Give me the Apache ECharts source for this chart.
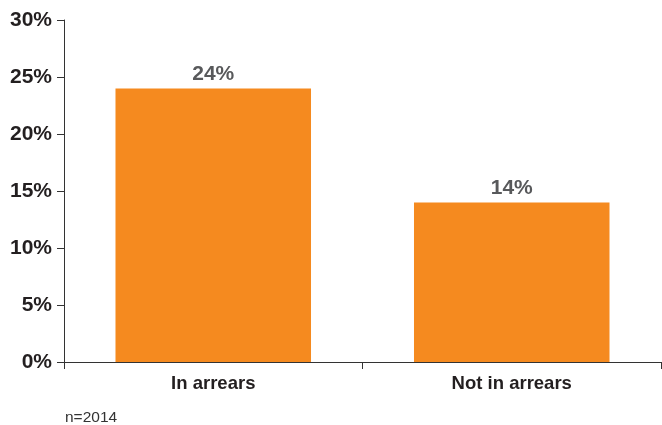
<!DOCTYPE html>
<html>
<head>
<meta charset="utf-8">
<script src="https://cdn.jsdelivr.net/npm/echarts@6/dist/echarts.min.js"></script>
<style>
html,body{margin:0;padding:0;background:#fff;}
#chart{width:662px;height:425px;}
</style>
</head>
<body>
<div id="chart"></div>
<script>
const categories = ['In arrears', 'Not in arrears'];
const values = [24, 14];
const yTicks = [0, 5, 10, 15, 20, 25, 30];

const chart = echarts.init(document.getElementById('chart'), null, {renderer: 'canvas'});
chart.setOption({
  animation: false,
  grid: {left: 64, right: 1, top: 20, bottom: 63, containLabel: false},
  xAxis: {
    type: 'category',
    data: categories,
    axisLine: {lineStyle: {color: '#333', width: 1}},
    axisTick: {show: true, length: 7, alignWithLabel: false, lineStyle: {color: '#333'}},
    axisLabel: {color: '#231F20', fontFamily: 'Liberation Sans, Arial, sans-serif', fontWeight: 'bold', fontSize: 18.5, margin: 12}
  },
  yAxis: {
    type: 'value',
    min: 0, max: 30, interval: 5,
    axisLine: {show: true, lineStyle: {color: '#333', width: 1}},
    axisTick: {show: true, length: 7, lineStyle: {color: '#333'}},
    splitLine: {show: false},
    axisLabel: {color: '#231F20', fontFamily: 'Liberation Sans, Arial, sans-serif', fontWeight: 'bold', fontSize: 21, margin: 12, formatter: '{value}%'}
  },
  series: [{
    type: 'bar',
    data: values,
    barWidth: '65.5%',
    itemStyle: {color: '#F58A1F'},
    label: {show: true, position: 'top', distance: 4, color: '#58595B', fontFamily: 'Liberation Sans, Arial, sans-serif', fontWeight: 'bold', fontSize: 21, formatter: '{c}%'}
  }],
  graphic: [{
    type: 'text', left: 65, top: 410,
    style: {text: 'n=2014', fill: '#333', font: '15.5px Liberation Sans, Arial, sans-serif'}
  }]
});
</script>
</body>
</html>
